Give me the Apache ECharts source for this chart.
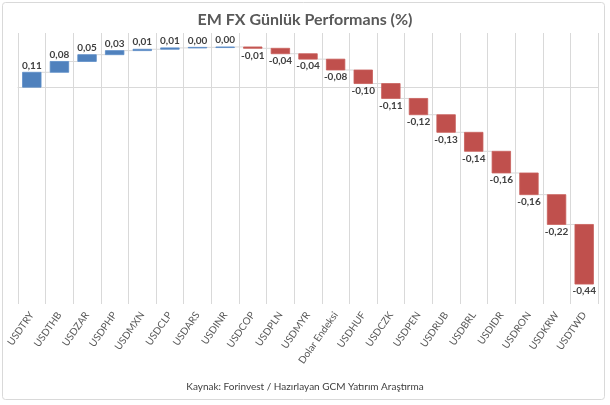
<!DOCTYPE html>
<html>
<head>
<meta charset="utf-8">
<script src="https://cdn.jsdelivr.net/npm/echarts@6/dist/echarts.min.js"></script>
<style>
  html, body { margin: 0; padding: 0; background: #fff; }
  #chart { width: 610px; height: 405px; }
</style>
</head>
<body>
<div id="chart"></div>
<script>
// EM FX daily performance, waterfall style
const categories = ["USDTRY", "USDTHB", "USDZAR", "USDPHP", "USDMXN", "USDCLP", "USDARS", "USDINR",
  "USDCOP", "USDPLN", "USDMYR", "Dolar Endeksi", "USDHUF", "USDCZK", "USDPEN", "USDRUB",
  "USDBRL", "USDIDR", "USDRON", "USDKRW", "USDTWD"]
const changes = [0.11, 0.08, 0.05, 0.03, 0.01, 0.01, 0.004, 0.003,
  -0.01, -0.04, -0.04, -0.08, -0.10, -0.11, -0.12, -0.13,
  -0.14, -0.16, -0.16, -0.22, -0.44]

const titleText = "EM FX Günlük Performans (%)"
const sourceText = "Kaynak: Forinvest / Hazırlayan GCM Yatırım Araştırma"

const font = "Lato, 'Open Sans', sans-serif"
const blue = "#4F81BD"
const red = "#C0504D"

// running totals: each bar floats from the previous total
const rows = []
let total = 0
changes.forEach(function (v, i) {
  rows.push([i, total, total + v, v])
  total += v
})

function fmt(v) {
  return v.toFixed(2).replace(".", ",")
}

const chart = echarts.init(document.getElementById("chart"))

chart.setOption({
  backgroundColor: "#fff",
  animation: false,
  title: {
    text: titleText,
    left: "center",
    top: 7,
    textStyle: { fontFamily: font, fontSize: 16, fontWeight: "bold", color: "#595959" },
  },
  grid: { left: 18, right: 12, top: 33, bottom: 101, containLabel: false },
  xAxis: {
    type: "category",
    data: categories,
    axisLine: { lineStyle: { color: "#d9d9d9" } },
    axisTick: { show: false },
    splitLine: { show: true, interval: 0, lineStyle: { color: "#d9d9d9" } },
    axisLabel: {
      interval: 0,
      rotate: 55,
      margin: 9,
      fontFamily: font,
      fontSize: 10,
      color: "#595959",
    },
  },
  yAxis: {
    type: "value",
    min: -1.6,
    max: 0.4,
    show: false,
    splitLine: { show: false },
  },
  series: [
    {
      type: "custom",
      data: rows,
      encode: { x: 0, y: [1, 2] },
      renderItem: function (params, api) {
        const idx = api.value(0)
        const from = api.value(1)
        const to = api.value(2)
        const v = api.value(3)
        const catW = api.size([1, 0])[0]
        const bw = catW * 0.67
        const p0 = api.coord([idx, from])
        const p1 = api.coord([idx, to])
        const top = Math.min(p0[1], p1[1])
        const h = Math.max(Math.abs(p1[1] - p0[1]), 0.6)
        const pos = v >= 0
        const children = [
          {
            type: "rect",
            shape: { x: p0[0] - bw / 2, y: top, width: bw, height: h },
            style: { fill: pos ? blue : red, stroke: pos ? "#5b8cc6" : "#c85e5b", lineWidth: 0.8 },
          },
          {
            type: "text",
            style: {
              text: fmt(v),
              x: p0[0],
              y: pos ? top - 2 : top + h + 2,
              align: "center",
              verticalAlign: pos ? "bottom" : "top",
              fontFamily: font,
              fontSize: 10,
              fontWeight: "bold",
              fill: "#404040",
            },
          },
        ]
        if (idx < categories.length - 1) {
          children.push({
            type: "line",
            shape: { x1: p0[0] + bw / 2, y1: p1[1], x2: p0[0] + catW - bw / 2, y2: p1[1] },
            style: { stroke: "#d9d9d9", lineWidth: 1 },
            z2: -1,
          })
        }
        return { type: "group", children: children }
      },
    },
  ],
  graphic: [
    {
      type: "rect",
      shape: { x: 2.5, y: 2.5, width: 602, height: 397, r: 3 },
      style: { fill: "none", stroke: "#d9d9d9", lineWidth: 1 },
      silent: true,
    },
    {
      type: "text",
      left: "center",
      top: 382,
      style: { text: sourceText, fontFamily: font, fontSize: 10, fill: "#404040" },
    },
  ],
})
</script>
</body>
</html>
